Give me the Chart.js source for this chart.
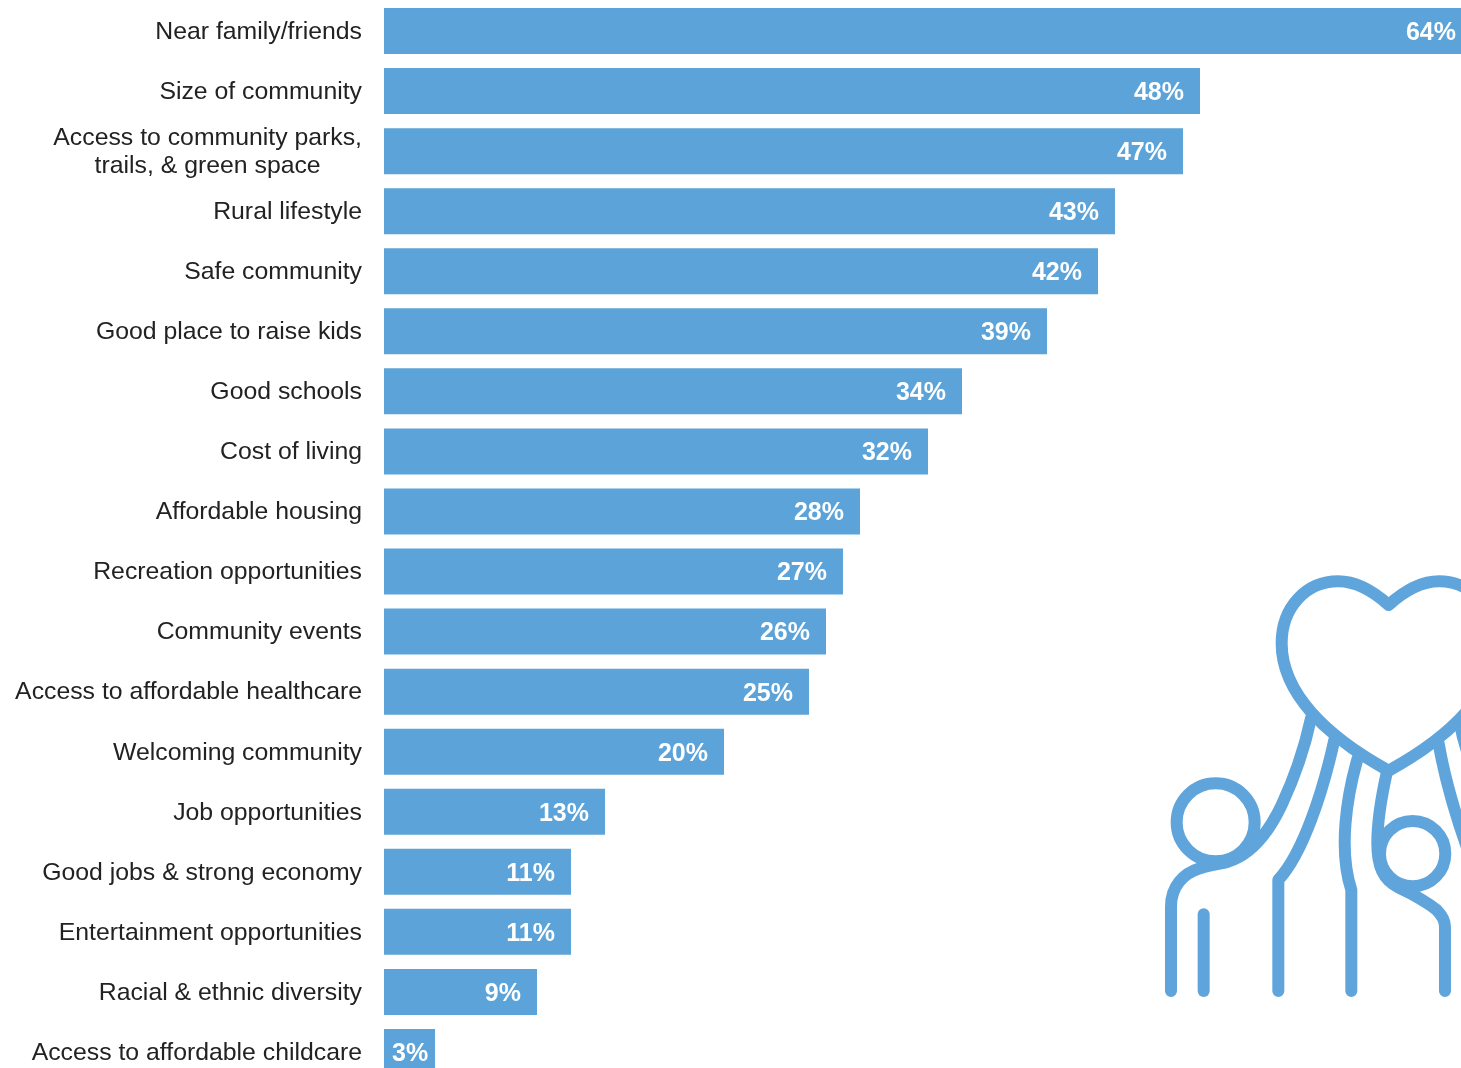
<!DOCTYPE html>
<html>
<head>
<meta charset="utf-8">
<title>Reasons for living here</title>
<script src="https://cdn.jsdelivr.net/npm/chart.js@4"></script>
<style>
    html, body { margin: 0; padding: 0; background: #fff; width: 1461px; height: 1068px; overflow: hidden; }
    #wrap { position: relative; width: 1461px; height: 1068px; overflow: hidden; }
    canvas { position: absolute; left: 0; top: 0; }
    #icon { position: absolute; left: 0; top: 0; }
</style>
</head>
<body>
<div id="wrap">
    <canvas id="reasonsChart" width="1489" height="1082"></canvas>
    <svg id="icon" width="1461" height="1068" fill="none" stroke="#5fa5db" stroke-linecap="round" stroke-linejoin="round">
        <g transform="translate(1150 560) scale(0.3333)" stroke-width="36">
            <!-- heart -->
            <path d="M716 135 C660 85 610 64 565 64 C470 64 395 140 395 250 C395 400 530 530 716 632 C902 530 1037 400 1037 250 C1037 140 962 64 867 64 C822 64 772 85 716 135 Z"/>
            <!-- adult on the left, head and raised arm -->
            <circle cx="197" cy="787" r="117"/>
            <path d="M63 1293 V1040 C63 980 100 940 150 925 C180 915 210 912 235 905 C300 885 350 830 395 735 C430 660 465 560 483 475"/>
            <path d="M161 1293 V1063"/>
            <!-- middle arms -->
            <path d="M553 540 C520 690 460 880 385 960 V1293"/>
            <path d="M623 595 C590 710 565 870 604 990 V1293"/>
            <!-- child on the right -->
            <circle cx="788" cy="881" r="98"/>
            <path d="M710 640 C690 730 682 790 682 850 C682 920 700 960 745 982 C800 1008 830 1025 860 1050 C880 1070 885 1085 885 1100 V1293"/>
            <path d="M866 550 C885 660 915 760 950 860"/>
            <path d="M930 490 C935 520 940 540 950 570"/>
        </g>
    </svg>
</div>
<script>
const categories = [
    'Near family/friends',
    'Size of community',
    // second line padded so it sits centred under the first
    ['Access to community parks,', 'trails, & green space' + '\u00a0'.repeat(6)],
    'Rural lifestyle',
    'Safe community',
    'Good place to raise kids',
    'Good schools',
    'Cost of living',
    'Affordable housing',
    'Recreation opportunities',
    'Community events',
    'Access to affordable healthcare',
    'Welcoming community',
    'Job opportunities',
    'Good jobs & strong economy',
    'Entertainment opportunities',
    'Racial & ethnic diversity',
    'Access to affordable childcare'
];
const percentages = [64, 48, 47, 43, 42, 39, 34, 32, 28, 27, 26, 25, 20, 13, 11, 11, 9, 3];

// white value text inside the end of each bar, kept inside the short ones
const barValueLabels = {
    id: 'barValueLabels',
    afterDatasetsDraw(chart) {
        const ctx = chart.ctx;
        const meta = chart.getDatasetMeta(0);
        ctx.save();
        ctx.font = 'bold 25px "Liberation Sans", Arial, sans-serif';
        ctx.fillStyle = '#fff';
        ctx.textAlign = 'right';
        ctx.textBaseline = 'middle';
        meta.data.forEach((bar, i) => {
            const text = percentages[i] + '%';
            const x = Math.max(bar.x - 16, bar.base + 8 + ctx.measureText(text).width);
            ctx.fillText(text, x, bar.y + 2);
        });
        ctx.restore();
    }
};

new Chart(document.getElementById('reasonsChart'), {
    type: 'bar',
    data: {
        labels: categories,
        datasets: [{
            data: percentages,
            backgroundColor: '#5ba3d9',
            borderWidth: 0,
            barPercentage: 1,
            categoryPercentage: 0.766
        }]
    },
    plugins: [barValueLabels],
    options: {
        indexAxis: 'y',
        responsive: false,
        animation: false,
        layout: { padding: { top: 1 } },
        plugins: { legend: { display: false }, tooltip: { enabled: false } },
        scales: {
            x: {
                min: 0,
                max: 65,
                display: false
            },
            y: {
                afterFit(scale) {
                    scale.width = 384;
                    // no room needed for the first and last labels, rows fill the height
                    scale.paddingTop = 0;
                    scale.paddingBottom = 0;
                },
                grid: { display: false },
                border: { display: false },
                ticks: {
                    autoSkip: false,
                    color: '#222',
                    padding: 14,
                    labelOffset: 1,
                    font: { family: '"Liberation Sans", Arial, sans-serif', size: 24.8, lineHeight: 1.15 }
                }
            }
        }
    }
});
</script>
</body>
</html>
